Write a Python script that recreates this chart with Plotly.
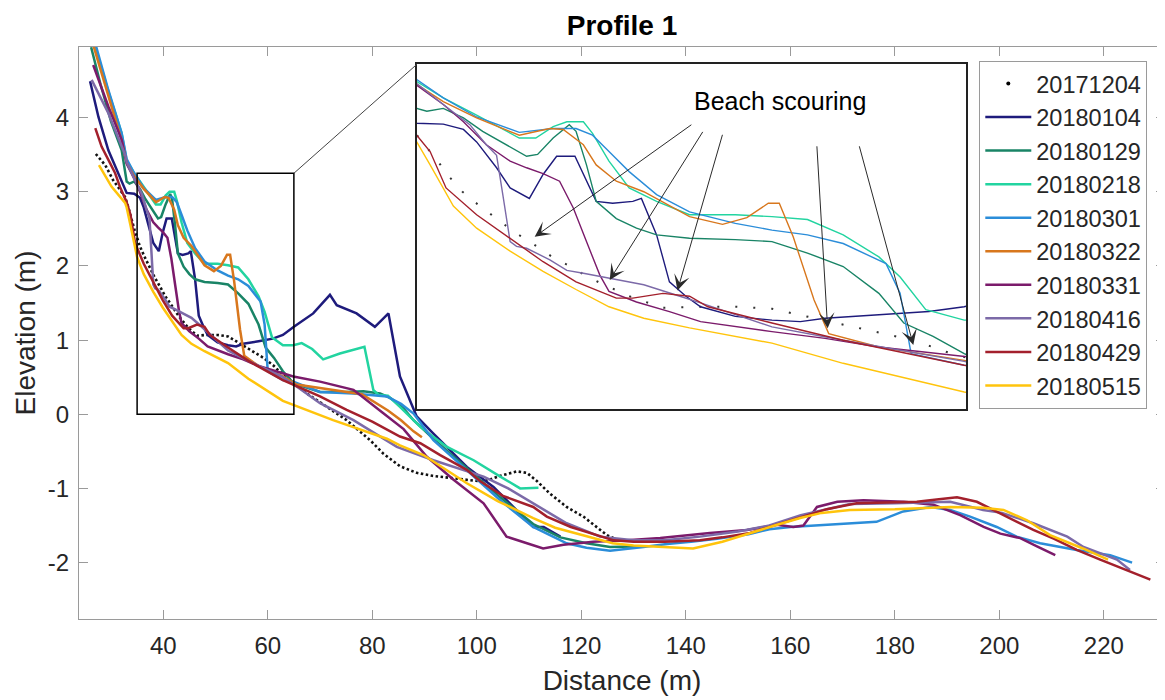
import plotly.graph_objects as go

# ---------------- data ----------------
dates = ["20171204", "20180104", "20180129", "20180218", "20180301",
         "20180322", "20180331", "20180416", "20180429", "20180515"]

x_20171204 = [27.1, 28.9, 30.4, 32.7, 33.36, 33.7, 34.0, 34.3, 34.6, 35.1, 35.5, 36.45, 37.4, 38.4, 39.4,
              40.4, 41.3, 42.1, 43.0, 44.85, 46.5, 48.3, 50.4, 52.4, 53.56, 54.7, 56.87, 58.04, 59.2, 61.2,
              61.9, 64.9, 67.5, 71.3, 75.1, 79.6, 82.1, 85.3, 88.5, 91.5, 94.9, 98.0, 101.3, 104.5, 107.7,
              109.6, 111.5, 114.0, 117.2, 120.4, 122.5, 124.9, 126.5]
y_20171204 = [3.51, 3.36, 3.16, 2.93, 2.78, 2.69, 2.62, 2.55, 2.46, 2.36, 2.27, 2.12, 1.98, 1.84, 1.72,
              1.59, 1.50, 1.41, 1.32, 1.16, 1.06, 1.07, 1.07, 1.05, 1.00, 0.95, 0.86, 0.81, 0.76, 0.65,
              0.60, 0.44, 0.28, 0.10, -0.08, -0.35, -0.53, -0.70, -0.79, -0.83, -0.86, -0.88, -0.91, -0.83, -0.77,
              -0.79, -0.90, -1.07, -1.25, -1.38, -1.50, -1.63, -1.68]

x_20180104 = [26.0, 27.6, 29.5, 31.4, 33.0, 34.45, 35.55, 36.27, 37.36, 38.1, 39.15, 39.9, 40.64, 41.64,
              42.8, 43.7, 44.8, 45.27, 46.1, 46.8, 47.7, 48.5, 50.4, 52.4, 53.95, 55.3, 58.24, 60.97, 62.9,
              65.0, 68.7, 71.9, 73.2, 77.0, 80.5, 83.1, 85.3, 86.6, 88.5, 91.7, 94.3, 98.1, 103.2, 107.0,
              110.8, 112.8, 116.0]
y_20180104 = [4.49, 4.01, 3.56, 3.25, 2.985, 2.975, 2.92, 2.79, 2.52, 2.31, 2.20, 2.45, 2.64, 2.64,
              2.17, 2.15, 2.17, 2.20, 1.82, 1.33, 1.18, 1.07, 0.97, 0.93, 0.915, 0.95, 0.985, 1.02, 1.07,
              1.18, 1.36, 1.61, 1.47, 1.36, 1.18, 1.36, 0.51, 0.28, -0.03, -0.26, -0.44, -0.71, -0.98, -1.25,
              -1.52, -1.52, -1.65]

x_20180129 = [26.2, 28.0, 30.0, 32.05, 33.0, 33.55, 34.45, 35.55, 36.6, 37.9, 39.0, 39.6, 40.45, 41.33,
              41.7, 42.27, 42.8, 43.9, 45.0, 46.1, 47.9, 50.4, 52.4, 54.34, 56.29, 58.24, 59.6, 61.2, 62.9,
              64.9, 70.0, 75.0, 78.3, 81.5, 83.4, 85.5, 87.9, 92.0, 98.0, 104.5, 110.8, 116.0, 121.0, 125.5,
              131.9]
y_20180129 = [4.95, 4.45, 3.95, 3.56, 3.14, 3.11, 3.14, 3.04, 2.90, 2.76, 2.64, 2.66, 2.83, 2.97,
              2.90, 2.55, 2.17, 1.99, 1.89, 1.82, 1.785, 1.77, 1.75, 1.63, 1.49, 1.21, 0.90, 0.76, 0.58,
              0.42, 0.30, 0.30, 0.31, 0.28, 0.22, 0.12, -0.08, -0.35, -0.72, -1.12, -1.48, -1.66, -1.74, -1.79,
              -1.78]

x_20180218 = [26.4, 29.5, 32.0, 33.0, 34.45, 36.27, 38.6, 39.5, 40.45, 41.2, 42.1, 42.6, 43.5, 44.6,
              46.1, 47.9, 50.4, 52.4, 54.34, 56.29, 58.24, 59.4, 60.8, 62.9, 64.9, 66.5, 68.5, 70.6, 73.8,
              78.5, 80.2, 81.2, 83.0, 85.3, 89.2, 94.3, 99.4, 104.5, 108.3, 111.8]
y_20180218 = [5.10, 4.35, 3.80, 3.42, 3.25, 3.07, 2.83, 2.83, 2.95, 3.00, 3.00, 2.88, 2.59, 2.31,
              2.17, 2.03, 2.03, 2.01, 1.98, 1.82, 1.59, 1.38, 1.04, 0.93, 0.93, 0.96, 0.88, 0.74, 0.82,
              0.91, 0.33, 0.26, 0.25, 0.10, -0.17, -0.44, -0.62, -0.84, -1.00, -0.99]

x_20180301 = [26.6, 29.5, 32.05, 33.0, 34.45, 36.27, 38.6, 40.45, 41.7, 42.6, 43.5, 44.6, 46.1, 47.9,
              50.4, 52.4, 54.34, 56.29, 58.63, 59.4, 60.0, 62.9, 64.9, 70.0, 76.4, 82.8, 85.5, 87.9, 91.7,
              98.1, 104.5, 110.8, 117.2, 121.0, 125.5, 131.9, 136.4, 141.0, 146.0, 152.0, 156.0, 160.0, 165.0,
              171.4, 176.5, 181.6, 186.8, 190.6, 194.4, 199.5, 203.3, 207.8, 214.8, 221.2, 225.4]
y_20180301 = [5.10, 4.37, 3.79, 3.44, 3.25, 3.05, 2.89, 2.93, 2.93, 2.86, 2.69, 2.48, 2.24, 2.06,
              1.94, 1.87, 1.82, 1.73, 1.52, 1.21, 0.58, 0.46, 0.44, 0.30, 0.28, 0.24, 0.14, 0.01, -0.35,
              -0.75, -1.16, -1.52, -1.74, -1.80, -1.84, -1.79, -1.75, -1.72, -1.68, -1.62, -1.55, -1.52, -1.50,
              -1.48, -1.45, -1.31, -1.25, -1.29, -1.38, -1.52, -1.65, -1.74, -1.83, -1.90, -2.00]

x_20180322 = [26.1, 29.5, 32.0, 33.0, 34.45, 36.27, 38.6, 40.27, 41.0, 42.1, 42.8, 43.9, 45.4, 47.9,
              49.7, 51.03, 52.2, 52.8, 53.56, 54.7, 55.5, 58.24, 62.9, 65.5, 72.5, 78.0, 83.0, 85.5, 87.9,
              89.5]
y_20180322 = [5.10, 4.30, 3.70, 3.39, 3.21, 3.04, 2.86, 2.93, 2.92, 2.76, 2.55, 2.38, 2.27, 2.01,
              1.93, 2.00, 2.15, 2.15, 1.80, 1.14, 0.79, 0.65, 0.51, 0.40, 0.33, 0.27, 0.05, -0.08, -0.23,
              -0.31]

x_20180331 = [26.6, 29.5, 32.05, 33.0, 34.45, 35.55, 36.8, 38.1, 39.0, 39.9, 40.8, 41.55, 42.27, 43.0,
              43.5, 45.0, 46.8, 48.5, 52.4, 55.3, 58.24, 62.9, 64.9, 70.0, 76.4, 82.0, 86.0, 90.4, 95.5,
              101.3, 105.7, 109.6, 112.7, 116.6, 122.3, 128.7, 135.1, 144.6, 151.7, 157.4, 160.6, 162.5,
              165.1, 169.0, 174.0, 181.7, 187.4, 192.5, 197.0, 200.2, 204.0, 207.2, 210.7]
y_20180331 = [4.71, 4.15, 3.70, 3.38, 3.18, 3.00, 2.76, 2.59, 2.52, 2.46, 2.38, 2.10, 1.75, 1.40,
              1.23, 1.12, 1.02, 0.915, 0.81, 0.74, 0.65, 0.55, 0.51, 0.44, 0.33, 0.02, -0.20, -0.57, -0.88,
              -1.20, -1.65, -1.74, -1.81, -1.76, -1.72, -1.70, -1.67, -1.60, -1.56, -1.49, -1.52, -1.50,
              -1.25, -1.18, -1.16, -1.18, -1.22, -1.36, -1.52, -1.61, -1.67, -1.78, -1.90]

x_20180416 = [26.3, 29.5, 32.7, 33.0, 34.45, 35.9, 36.8, 37.36, 37.7, 38.1, 38.45, 39.0, 40.27, 41.2,
              42.1, 43.5, 45.4, 47.2, 48.5, 52.4, 56.29, 62.9, 66.0, 70.0, 76.4, 84.7, 91.7, 96.0, 101.3,
              106.0, 110.8, 117.2, 123.6, 130.0, 136.0, 142.7, 150.0, 156.0, 162.0, 171.4, 180.0, 190.6,
              196.9, 200.5, 206.5, 213.0, 216.1, 222.5, 225.0]
y_20180416 = [4.51, 4.06, 3.50, 3.40, 3.18, 2.97, 2.76, 2.65, 2.24, 1.75, 1.70, 1.68, 1.56, 1.45,
              1.42, 1.37, 1.30, 1.19, 1.11, 0.86, 0.72, 0.50, 0.35, 0.15, -0.08, -0.44, -0.62, -0.72, -0.84,
              -1.00, -1.20, -1.47, -1.65, -1.70, -1.70, -1.65, -1.58, -1.50, -1.36, -1.21, -1.20, -1.18,
              -1.29, -1.33, -1.47, -1.65, -1.79, -1.96, -2.10]

x_20180429 = [27.0, 28.2, 29.8, 30.8, 31.7, 33.0, 33.73, 34.6, 36.27, 38.1, 39.9, 41.7, 43.0, 43.9,
              44.8, 46.45, 47.9, 48.9, 52.4, 56.29, 62.9, 64.9, 70.0, 75.1, 80.0, 85.3, 89.2, 93.0, 98.1,
              100.6, 105.0, 110.8, 113.4, 118.0, 123.6, 126.2, 130.0, 136.0, 142.7, 147.0, 152.3, 157.0,
              162.5, 167.0, 172.7, 179.1, 184.2, 188.0, 191.9, 195.7, 200.2, 206.5, 210.5, 214.8, 219.3,
              225.0, 228.9]
y_20180429 = [3.86, 3.61, 3.39, 3.25, 3.07, 2.86, 2.69, 2.31, 2.03, 1.78, 1.54, 1.33, 1.23, 1.16,
              1.16, 1.21, 1.18, 1.07, 0.90, 0.72, 0.46, 0.40, 0.24, 0.06, -0.10, -0.30, -0.39, -0.55, -0.75,
              -0.90, -1.10, -1.25, -1.38, -1.52, -1.65, -1.70, -1.72, -1.72, -1.70, -1.66, -1.60, -1.50,
              -1.38, -1.28, -1.20, -1.19, -1.18, -1.15, -1.12, -1.18, -1.34, -1.56, -1.68, -1.83, -1.96,
              -2.12, -2.23]

x_20180515 = [27.7, 30.1, 32.7, 33.0, 33.73, 34.45, 35.0, 36.27, 38.1, 39.9, 41.7, 43.5, 45.4, 47.9,
              52.4, 56.29, 62.9, 64.9, 72.5, 82.8, 85.3, 89.8, 98.1, 104.0, 110.8, 115.0, 121.0, 126.0,
              130.0, 135.0, 141.4, 147.0, 152.3, 157.0, 161.9, 166.0, 171.4, 180.0, 190.6, 196.9, 200.8,
              205.3, 209.7, 216.0, 220.8]
y_20180515 = [3.36, 3.07, 2.85, 2.79, 2.55, 2.31, 2.12, 1.89, 1.65, 1.44, 1.25, 1.07, 0.95, 0.85,
              0.69, 0.48, 0.18, 0.125, -0.08, -0.33, -0.42, -0.55, -0.93, -1.17, -1.40, -1.53, -1.65, -1.74,
              -1.77, -1.79, -1.81, -1.72, -1.60, -1.50, -1.40, -1.33, -1.29, -1.28, -1.25, -1.26, -1.29,
              -1.43, -1.63, -1.81, -1.96]

x_ticks = [40, 60, 80, 100, 120, 140, 160, 180, 200, 220]
y_ticks = [-2, -1, 0, 1, 2, 3, 4]
y_ticktext = ["-2", "-1", "0", "1", "2", "3", "4"]

inset_label = "Beach scouring"

# ---------------- styling ----------------
colors = {
    "20180104": "#1E1B7C",
    "20180129": "#198466",
    "20180218": "#22D4A0",
    "20180301": "#2B8DD9",
    "20180322": "#D8771D",
    "20180331": "#7B1B6B",
    "20180416": "#7C6AA8",
    "20180429": "#A3202C",
    "20180515": "#FFC40C",
}
lines_data = {
    "20180104": (x_20180104, y_20180104),
    "20180129": (x_20180129, y_20180129),
    "20180218": (x_20180218, y_20180218),
    "20180301": (x_20180301, y_20180301),
    "20180322": (x_20180322, y_20180322),
    "20180331": (x_20180331, y_20180331),
    "20180416": (x_20180416, y_20180416),
    "20180429": (x_20180429, y_20180429),
    "20180515": (x_20180515, y_20180515),
}

FONT = "Liberation Sans, Arial, Helvetica, sans-serif"
AX = "#9a9a9a"

# the page body adds an 8px offset; the figure is sized so that it fits the window
W, H = 1157, 692

fig = go.Figure()

# legend entry for the dotted survey (single dot, like the reference)
fig.add_trace(go.Scatter(x=[None], y=[None], mode="markers", name=dates[0],
                         marker=dict(color="black", size=4), xaxis="x", yaxis="y"))
# main dotted survey
fig.add_trace(go.Scatter(x=x_20171204, y=y_20171204, mode="lines", showlegend=False,
                         line=dict(color="#111111", width=2.6, dash="2.5px,2.5px"),
                         xaxis="x", yaxis="y", hoverinfo="skip"))
for d in dates[1:]:
    xs, ys = lines_data[d]
    fig.add_trace(go.Scatter(x=xs, y=ys, mode="lines", name=d,
                             line=dict(color=colors[d], width=2.5), xaxis="x", yaxis="y"))

# inset (same data, zoomed)
fig.add_trace(go.Scatter(x=x_20171204, y=y_20171204, mode="lines", showlegend=False,
                         line=dict(color="#333333", width=2, dash="2px,16px"),
                         xaxis="x2", yaxis="y2", hoverinfo="skip"))
for d in dates[1:]:
    xs, ys = lines_data[d]
    fig.add_trace(go.Scatter(x=xs, y=ys, mode="lines", showlegend=False,
                             line=dict(color=colors[d], width=1.4), xaxis="x2", yaxis="y2"))

# arrows in the inset: (head_x, head_y, tail_x, tail_y) in inset data units
arrows = [
    (39.44, 1.80, 48.08, 2.98),
    (43.54, 1.35, 48.67, 2.91),
    (47.24, 1.24, 49.72, 2.88),
    (55.44, 0.845, 54.85, 2.76),
    (60.12, 0.671, 57.15, 2.76),
]
annotations = []
for hx, hy, tx, ty in arrows:
    annotations.append(dict(x=hx, y=hy, ax=tx, ay=ty, xref="x2", yref="y2", axref="x2", ayref="y2",
                            text="", showarrow=True, arrowhead=3, arrowsize=2.6, arrowwidth=1,
                            arrowcolor="#2a2a2a", standoff=0, startstandoff=0))
annotations.append(dict(x=52.84, y=3.22, xref="x2", yref="y2", text=inset_label, showarrow=False,
                        font=dict(size=25, color="black", family=FONT), xanchor="center", yanchor="middle"))

shapes = [
    dict(type="rect", xref="x", yref="y", x0=35, x1=65, y0=0, y1=3.25,
         line=dict(color="black", width=1.5), layer="above"),
    dict(type="line", xref="x", yref="y", x0=65, y0=3.25, x1=88.55, y1=4.72,
         line=dict(color="#444444", width=1), layer="above"),
]

fig.update_layout(
    width=W, height=H,
    margin=dict(l=71, r=0, t=39, b=81),
    paper_bgcolor="white", plot_bgcolor="white",
    font=dict(family=FONT, color="#262626"),
    title=dict(text="<b>Profile 1</b>", x=0.5, xref="paper", xanchor="center",
               y=1 - 17 / H, yref="container", yanchor="middle",
               font=dict(size=28, color="black", family=FONT)),
    xaxis=dict(range=[23.88, 231.7], tickvals=x_ticks, ticks="inside", ticklen=9, tickcolor=AX,
               tickwidth=1.2, showline=True, linecolor=AX, linewidth=1.2, mirror="ticks",
               showgrid=False, zeroline=False, tickfont=dict(size=24, color="#262626"),
               ticklabelstandoff=5,
               title=dict(text="Distance (m)", font=dict(size=28, color="#262626"), standoff=12)),
    yaxis=dict(range=[-2.761, 4.953], tickvals=y_ticks, ticktext=y_ticktext, ticks="inside",
               ticklen=9, tickcolor=AX, tickwidth=1.2, showline=True, linecolor=AX, linewidth=1.2,
               mirror="ticks", showgrid=False, zeroline=False,
               tickfont=dict(size=24, color="#262626"), ticklabelstandoff=4,
               title=dict(text="Elevation (m)", font=dict(size=28, color="#262626"), standoff=3)),
    xaxis2=dict(domain=[0.311, 0.8168], anchor="y2", range=[33, 63], showticklabels=False,
                ticks="", showline=True, mirror=True, linecolor="#222222", linewidth=1.6,
                showgrid=False, zeroline=False),
    yaxis2=dict(domain=[0.3666, 0.9698], anchor="x2", range=[0, 3.6], showticklabels=False,
                ticks="", showline=True, mirror=True, linecolor="#222222", linewidth=1.6,
                showgrid=False, zeroline=False),
    legend=dict(x=0.829, y=0.976, xanchor="left", yanchor="top", bgcolor="white",
                bordercolor=AX, borderwidth=1, font=dict(size=23.5, color="#262626", family=FONT),
                tracegroupgap=0, itemwidth=46),
    shapes=shapes,
    annotations=annotations,
    showlegend=True,
)

fig.write_html("out.html")
